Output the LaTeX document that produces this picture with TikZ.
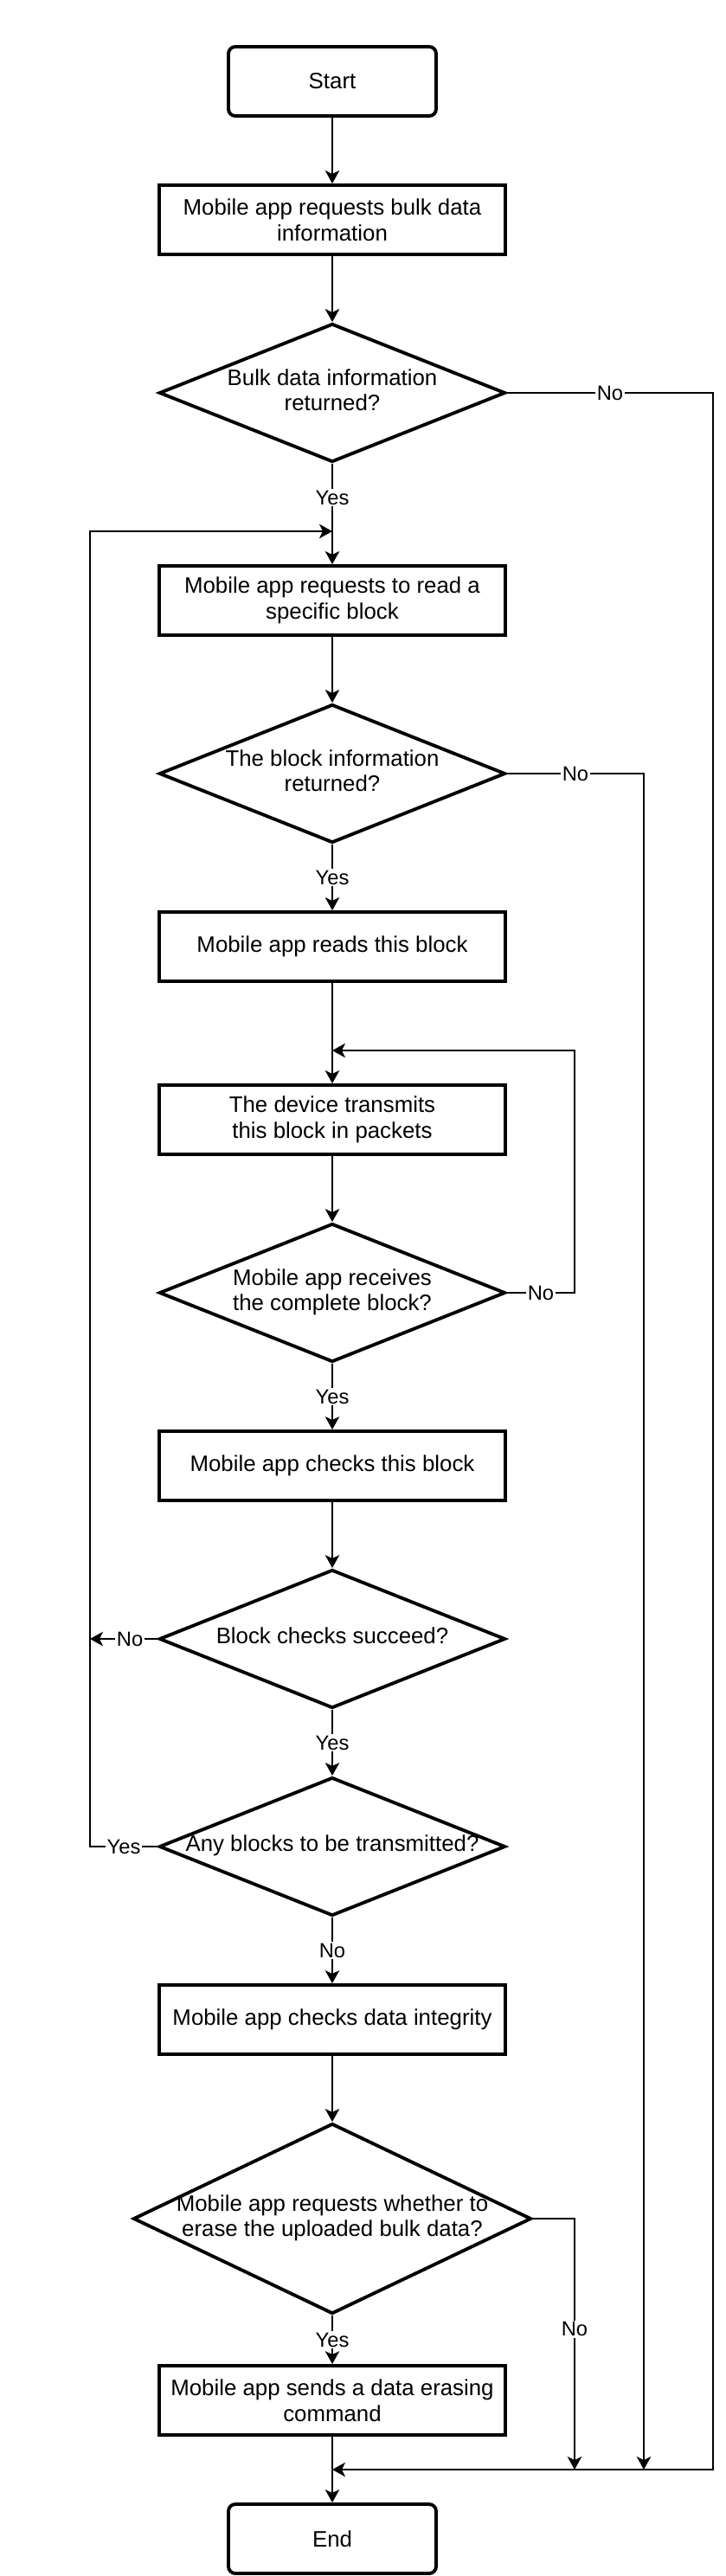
\documentclass[tikz,border=0pt]{standalone}
\usepackage{fontspec}
\setmainfont{Liberation Sans}
\usepackage{tikz}
\usetikzlibrary{shapes.geometric, arrows.meta}

\newcommand{\boxfont}{\fontsize{14.7}{16.9}\selectfont}
\newcommand{\lblfont}{\fontsize{13.5}{15.5}\selectfont}
\newcommand{\dtext}[1]{\makebox[0pt]{\begin{tabular}{@{}c@{}}#1\end{tabular}}}

\begin{document}
\begin{tikzpicture}[
        term/.style={draw, line width=2.2pt, rounded corners=0.16cm, minimum width=4.8cm, minimum height=1.6cm, font=\boxfont},
        proc/.style={draw, line width=2.2pt, minimum width=8cm, minimum height=1.6cm, align=center, font=\boxfont},
        dec/.style={draw, diamond, line width=2.2pt, minimum width=8cm, minimum height=3.2cm, inner sep=0pt, font=\boxfont},
        lbl/.style={fill=white, inner sep=1pt, font=\lblfont},
        flow/.style={line width=1.1pt, -{Stealth[length=0.3cm, width=0.33cm, inset=0.08cm]}}]
        \useasboundingbox (0,0) rectangle (16.78,-59.54);

        \node[term] (start) at (7.68, -1.88) {Start};
        \node[proc] (p1) at (7.68, -5.08) {Mobile app requests bulk data\\information};
        \node[dec] (q1) at (7.68, -9.08) {\dtext{Bulk data information\\returned?}};
        \node[proc] (p2) at (7.68, -13.88) {Mobile app requests to read a\\specific block};
        \node[dec] (q2) at (7.68, -17.88) {\dtext{The block information\\returned?}};
        \node[proc] (p3) at (7.68, -21.88) {Mobile app reads this block};
        \node[proc] (p4) at (7.68, -25.88) {The device transmits\\this block in packets};
        \node[dec] (q3) at (7.68, -29.88) {\dtext{Mobile app receives\\the complete block?}};
        \node[proc] (p5) at (7.68, -33.88) {Mobile app checks this block};
        \node[dec] (q4) at (7.68, -37.88) {\dtext{Block checks succeed?}};
        \node[dec] (q5) at (7.68, -42.68) {\dtext{Any blocks to be transmitted?}};
        \node[proc] (p6) at (7.68, -46.68) {Mobile app checks data integrity};
        \node[dec, minimum width=9.2cm, minimum height=4.4cm] (q6) at (7.68, -51.28) {\dtext{Mobile app requests whether to\\erase the uploaded bulk data?}};
        \node[proc] (p7) at (7.68, -55.48) {Mobile app sends a data erasing\\command};
        \node[term] (stop) at (7.68, -58.68) {End};

        % joins and bends
        \coordinate (j1) at (7.68, -12.28);
        \coordinate (j2) at (7.68, -24.28);
        \coordinate (m0) at (7.68, -57.08);
        \coordinate (m1) at (13.28, -57.08);
        \coordinate (m2) at (14.88, -57.08);
        \coordinate (r1) at (16.48, -9.08);
        \coordinate (r2) at (14.88, -17.88);
        \coordinate (r3) at (13.28, -29.88);
        \coordinate (l4) at (2.08, -37.88);
        \coordinate (l5) at (2.08, -42.68);

        \draw[flow] (start) -- (p1);
        \draw[flow] (p1) -- (q1);
        \draw[flow] (q1) -- node[lbl] (y1) {Yes} (j1) -- (p2);
        \draw[flow] (q1) -- node[lbl] (n1) {No} (r1) |- (m0);
        \draw[flow] (p2) -- (q2);
        \draw[flow] (q2) -- node[lbl] (y2) {Yes} (p3);
        \draw[flow] (q2) -- node[lbl] (n2) {No} (r2) -- (m2);
        \draw[flow] (p3) -- (p4);
        \draw[flow] (p4) -- (q3);
        \draw[flow] (q3) -- node[lbl] (n3) {No} (r3) |- (j2);
        \draw[flow] (q3) -- node[lbl] (y3) {Yes} (p5);
        \draw[flow] (p5) -- (q4);
        \draw[flow] (q4) -- node[lbl, pos=0.41] (n4) {No} (l4);
        \draw[flow] (q4) -- node[lbl] (y4) {Yes} (q5);
        \draw[flow] (q5) -- node[lbl] (y5) {Yes} (l5) |- (j1);
        \draw[flow] (q5) -- node[lbl] (n5) {No} (p6);
        \draw[flow] (p6) -- (q6);
        \draw[flow] (q6) -| node[lbl, pos=0.72] (n6) {No} (m1);
        \draw[flow] (q6) -- node[lbl] (y6) {Yes} (p7);
        \draw[flow] (p7) -- (stop);
\end{tikzpicture}
\end{document}
